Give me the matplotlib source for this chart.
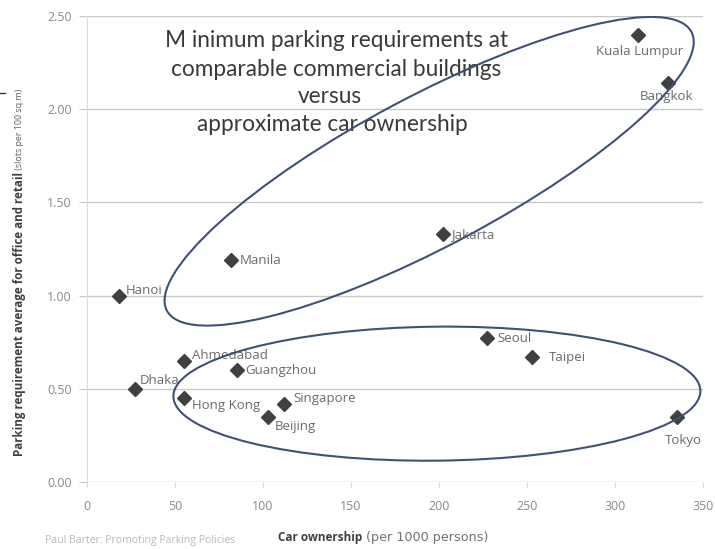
import matplotlib
matplotlib.use("Agg")
import matplotlib.pyplot as plt
from matplotlib.patches import Ellipse
from matplotlib.transforms import ScaledTranslation
from matplotlib.lines import Line2D

# Car ownership (per 1000 persons) vs minimum parking requirement (slots per 100 sq.m)
cities = ["Kuala Lumpur", "Bangkok", "Jakarta", "Manila", "Hanoi", "Ahmedabad",
          "Guangzhou", "Dhaka", "Hong Kong", "Singapore", "Beijing", "Seoul",
          "Taipei", "Tokyo"]
car_ownership = [313, 330, 202, 82, 18, 55, 85, 27, 55, 112, 103, 227, 253, 335]
parking_req = [2.40, 2.14, 1.33, 1.19, 1.00, 0.65, 0.60, 0.50, 0.45, 0.42, 0.35,
               0.77, 0.67, 0.35]

x_ticks = [0, 50, 100, 150, 200, 250, 300, 350]
y_ticks = [0.00, 0.50, 1.00, 1.50, 2.00, 2.50]

# label placement: (dx, dy) in points, horizontal alignment
label_pos = {
    "Kuala Lumpur": (1, -12, "center"),
    "Bangkok": (-1, -10, "center"),
    "Jakarta": (6, 0, "left"),
    "Manila": (6, 0, "left"),
    "Hanoi": (5, 4, "left"),
    "Ahmedabad": (6, 4, "left"),
    "Guangzhou": (6, 0, "left"),
    "Dhaka": (4, 6, "left"),
    "Hong Kong": (6, -5, "left"),
    "Singapore": (7, 4, "left"),
    "Beijing": (5, -7, "left"),
    "Seoul": (8, 0, "left"),
    "Taipei": (12, 0, "left"),
    "Tokyo": (5, -17, "center"),
}

fig = plt.figure(figsize=(7.15, 5.49), dpi=100)
ax = fig.add_axes([0.1217, 0.122, 0.8615, 0.8489])

grid_c = "#c8c8c8"
tick_c = "#8a8a8a"
ax.set_xlim(0, 350)
ax.set_ylim(0, 2.5)
ax.set_xticks(x_ticks)
ax.set_yticks(y_ticks)
ax.set_yticklabels([f"{v:.2f}" for v in y_ticks])
ax.yaxis.grid(True, color=grid_c, linewidth=1.0)
ax.set_axisbelow(True)
for s in ["top", "right", "bottom"]:
    ax.spines[s].set_visible(False)
ax.spines["left"].set_color("#dcdcdc")
ax.tick_params(axis="y", length=6, color=grid_c, labelcolor=tick_c, labelsize=9, pad=5)
ax.tick_params(axis="x", length=4, color="#dddddd", labelcolor=tick_c, labelsize=9, pad=9)
for lab in ax.get_xticklabels() + ax.get_yticklabels():
    lab.set_family("Open Sans")

ax.plot(car_ownership, parking_req, linestyle="none", marker="D", markersize=7.5,
        color="#404040", zorder=3)

for name, xv, yv in zip(cities, car_ownership, parking_req):
    dx, dy, ha = label_pos[name]
    ax.annotate(name, (xv, yv), xytext=(dx, dy), textcoords="offset points",
                ha=ha, va="center", fontsize=9.5, color="#6a6a6a",
                family="Open Sans", zorder=4)

# grouping ellipses: centre in data units, size in inches, angle in degrees
ell_c = "#3f5272"
groups = [
    ((194.4, 1.667), 5.94, 1.50, 28.0),
    ((198.8, 0.474), 5.27, 1.34, 0.6),
]
for (cx, cy), w, h, ang in groups:
    tr = fig.dpi_scale_trans + ScaledTranslation(cx, cy, ax.transData)
    ax.add_patch(Ellipse((0, 0), w, h, angle=ang, transform=tr, fill=False,
                         edgecolor=ell_c, linewidth=1.5, zorder=5))

# heading inside the plot
title_kw = dict(ha="center", va="baseline", fontsize=16.3, color="#3a3a3a",
                family="Lato", transform=ax.transAxes)
ax.text(0.405, 0.9335, "M inimum parking requirements at", **title_kw)
ax.text(0.405, 0.8712, "comparable commercial buildings", **title_kw)
ax.text(0.3945, 0.8133, "versus", **title_kw)
ax.text(0.399, 0.7532, "approximate car ownership", **title_kw)

# axis titles: bold lead plus regular unit text
fig.canvas.draw()
renderer = fig.canvas.get_renderer()

yb = fig.text(20 / 715, 1 - 456 / 549, "Parking requirement average for office and retail",
              rotation=90, ha="center", va="bottom", fontsize=8.4, fontweight="bold",
              color="#404040", family="Open Sans")
bb = yb.get_window_extent(renderer)
fig.text(20 / 715, bb.y1 / fig.bbox.height, " (slots per 100 sq.m)", rotation=90,
         ha="center", va="bottom", fontsize=6.4, color="#606060", family="Open Sans")

xb = fig.text(278 / 715, 1 - 537 / 549, "Car ownership", ha="left", va="center",
              fontsize=8.5, fontweight="bold", color="#404040", family="Open Sans")
bb = xb.get_window_extent(renderer)
fig.text(bb.x1 / fig.bbox.width, 1 - 537 / 549, " (per 1000 persons)", ha="left",
         va="center", fontsize=9.2, color="#707070", family="DejaVu Sans")

fig.text(45 / 715, 1 - 540 / 549, "Paul Barter: Promoting Parking Policies", ha="left",
         va="center", fontsize=7.6, color="#b8b8b8", family="Open Sans")

fig.add_artist(Line2D([0, 5 / 715], [1 - 93 / 549, 1 - 93 / 549], color="#333333",
                      linewidth=1.0, transform=fig.transFigure))

fig.savefig("out.png", dpi=100)
